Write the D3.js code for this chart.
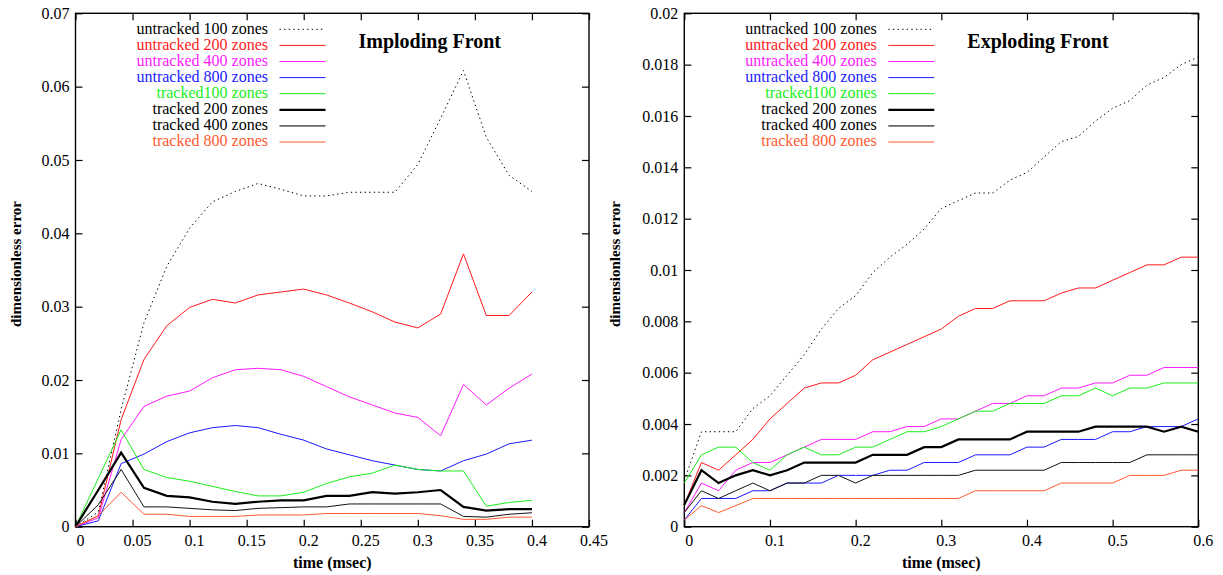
<!DOCTYPE html>
<html>
<head>
<meta charset="utf-8">
<script src="https://cdn.jsdelivr.net/npm/d3@7"></script>
<style>
body { margin: 0; background: #fff; }
text { font-family: "Liberation Serif", "Times New Roman", serif; }
</style>
</head>
<body>
<div id="chart"></div>
<script>
// Séries (mesma ordem nos dois gráficos)
const seriesNames = ["untracked 100 zones", "untracked 200 zones", "untracked 400 zones", "untracked 800 zones",
    "tracked100 zones", "tracked 200 zones", "tracked 400 zones", "tracked 800 zones"];
const seriesColors = ["#000000", "#ff1a1a", "#ff1aff", "#1a1aff", "#1aee1a", "#000000", "#111111", "#ff5a30"];
const seriesWidths = [1, 1, 1, 1, 1, 2.2, 1, 1];

// Imploding Front
const implodeTime = [0, 0.02, 0.04, 0.06, 0.08, 0.1, 0.12, 0.14, 0.16, 0.18, 0.2,
    0.22, 0.24, 0.26, 0.28, 0.3, 0.32, 0.34, 0.36, 0.38, 0.4];
const implodeU100 = [0, 0.002, 0.016, 0.0278, 0.0355, 0.0407, 0.0443, 0.0457, 0.0468, 0.046, 0.0451,
    0.0451, 0.0456, 0.0456, 0.0456, 0.0494, 0.0557, 0.0622, 0.0531, 0.0479, 0.0457];
const implodeU200 = [0, 0.0015, 0.0146, 0.0228, 0.0274, 0.0299, 0.031, 0.0305, 0.0316, 0.032, 0.0324,
    0.0316, 0.0305, 0.0293, 0.0279, 0.0271, 0.029, 0.0372, 0.0288, 0.0288, 0.032];
const implodeU400 = [0, 0.0012, 0.0119, 0.0164, 0.0178, 0.0185, 0.0203, 0.0214, 0.0216, 0.0214, 0.0205,
    0.0191, 0.0177, 0.0166, 0.0155, 0.0149, 0.0124, 0.0194, 0.0166, 0.0189, 0.0208];
const implodeU800 = [0, 0.0008, 0.0086, 0.0099, 0.0116, 0.0128, 0.0135, 0.0138, 0.0135, 0.0126, 0.0118,
    0.0106, 0.0098, 0.009, 0.0084, 0.0078, 0.0076, 0.009, 0.0099, 0.0113, 0.0118];
const implodeT100 = [0, 0.0066, 0.0132, 0.0078, 0.0067, 0.0062, 0.0055, 0.0048, 0.0042, 0.0042, 0.0047,
    0.0059, 0.0068, 0.0073, 0.0084, 0.0078, 0.0076, 0.0076, 0.0028, 0.0033, 0.0036];
const implodeT200 = [0, 0.005, 0.0101, 0.0053, 0.0042, 0.004, 0.0034, 0.0031, 0.0034, 0.0036, 0.0036,
    0.0042, 0.0042, 0.0047, 0.0045, 0.0047, 0.005, 0.0027, 0.0022, 0.0024, 0.0024];
const implodeT400 = [0, 0.003, 0.0078, 0.0027, 0.0027, 0.0025, 0.0023, 0.0022, 0.0025, 0.0026, 0.0027,
    0.0027, 0.0031, 0.0031, 0.0031, 0.0031, 0.0031, 0.0014, 0.0013, 0.0017, 0.0019];
const implodeT800 = [0, 0.0015, 0.0047, 0.0017, 0.0017, 0.0014, 0.0014, 0.0014, 0.0016, 0.0016, 0.0016,
    0.0018, 0.0018, 0.0018, 0.0018, 0.0018, 0.0015, 0.001, 0.001, 0.0013, 0.0013];
const implodeXTicks = [0, 0.05, 0.1, 0.15, 0.2, 0.25, 0.3, 0.35, 0.4, 0.45];
const implodeYTicks = [0, 0.01, 0.02, 0.03, 0.04, 0.05, 0.06, 0.07];

// Exploding Front
const explodeTime = [0, 0.02, 0.04, 0.06, 0.08, 0.1, 0.12, 0.14, 0.16, 0.18, 0.2,
    0.22, 0.24, 0.26, 0.28, 0.3, 0.32, 0.34, 0.36, 0.38, 0.4,
    0.42, 0.44, 0.46, 0.48, 0.5, 0.52, 0.54, 0.56, 0.58, 0.6];
const explodeU100 = [0.0018, 0.0037, 0.0037, 0.0037, 0.0046, 0.0051, 0.0059, 0.0067, 0.0077, 0.0085, 0.009,
    0.0099, 0.0105, 0.011, 0.0116, 0.0124, 0.0127, 0.013, 0.013, 0.0135, 0.0138,
    0.0144, 0.015, 0.0152, 0.0158, 0.0163, 0.0166, 0.0172, 0.0175, 0.018, 0.0183];
const explodeU200 = [0.00085, 0.0025, 0.0022, 0.0028, 0.0034, 0.0042, 0.0048, 0.0054, 0.0056, 0.0056, 0.0059,
    0.0065, 0.0068, 0.0071, 0.0074, 0.0077, 0.0082, 0.0085, 0.0085, 0.0088, 0.0088,
    0.0088, 0.0091, 0.0093, 0.0093, 0.0096, 0.0099, 0.0102, 0.0102, 0.0105, 0.0105];
const explodeU400 = [0.00055, 0.0017, 0.0014, 0.0022, 0.0025, 0.0025, 0.0028, 0.0031, 0.0034, 0.0034, 0.0034,
    0.0037, 0.0037, 0.0039, 0.0039, 0.0042, 0.0042, 0.0045, 0.0048, 0.0048, 0.0051,
    0.0051, 0.0054, 0.0054, 0.0056, 0.0056, 0.0059, 0.0059, 0.0062, 0.0062, 0.0062];
const explodeU800 = [0.00026, 0.0011, 0.0011, 0.0011, 0.0014, 0.0014, 0.0017, 0.0017, 0.0017, 0.002, 0.002,
    0.002, 0.0022, 0.0022, 0.0025, 0.0025, 0.0025, 0.0028, 0.0028, 0.0028, 0.0031,
    0.0031, 0.0034, 0.0034, 0.0034, 0.0037, 0.0037, 0.0039, 0.0039, 0.0039, 0.0042];
const explodeT100 = [0.0017, 0.0028, 0.0031, 0.0031, 0.0025, 0.0022, 0.0028, 0.0031, 0.0028, 0.0028, 0.0031,
    0.0031, 0.0034, 0.0037, 0.0037, 0.0039, 0.0042, 0.0045, 0.0045, 0.0048, 0.0048,
    0.0048, 0.0051, 0.0051, 0.0054, 0.0051, 0.0054, 0.0054, 0.0056, 0.0056, 0.0056];
const explodeT200 = [0.00085, 0.0022, 0.0017, 0.002, 0.0022, 0.002, 0.0022, 0.0025, 0.0025, 0.0025, 0.0025,
    0.0028, 0.0028, 0.0028, 0.0031, 0.0031, 0.0034, 0.0034, 0.0034, 0.0034, 0.0037,
    0.0037, 0.0037, 0.0037, 0.0039, 0.0039, 0.0039, 0.0039, 0.0037, 0.0039, 0.0037];
const explodeT400 = [0.00055, 0.0014, 0.0011, 0.0014, 0.0017, 0.0014, 0.0017, 0.0017, 0.002, 0.002, 0.0017,
    0.002, 0.002, 0.002, 0.002, 0.002, 0.002, 0.0022, 0.0022, 0.0022, 0.0022,
    0.0022, 0.0025, 0.0025, 0.0025, 0.0025, 0.0025, 0.0028, 0.0028, 0.0028, 0.0028];
const explodeT800 = [0.00026, 0.00082, 0.00055, 0.00082, 0.0011, 0.0011, 0.0011, 0.0011, 0.0011, 0.0011, 0.0011,
    0.0011, 0.0011, 0.0011, 0.0011, 0.0011, 0.0011, 0.0014, 0.0014, 0.0014, 0.0014,
    0.0014, 0.0017, 0.0017, 0.0017, 0.0017, 0.002, 0.002, 0.002, 0.0022, 0.0022];
const explodeXTicks = [0, 0.1, 0.2, 0.3, 0.4, 0.5, 0.6];
const explodeYTicks = [0, 0.002, 0.004, 0.006, 0.008, 0.01, 0.012, 0.014, 0.016, 0.018, 0.02];

// Tamanho da página
const width = 1223;
const height = 575;

const svg = d3.select("#chart")
    .append("svg")
    .attr("width", width)
    .attr("height", height);

function drawPanel(p) {
    const top = 13.3, h = 513.4, w = p.w;
    const g = svg.append("g").attr("transform", `translate(${p.left},${top})`);

    const x = d3.scaleLinear().domain(p.xDomain).range([0, w]);
    const y = d3.scaleLinear().domain(p.yDomain).range([h, 0]);
    const fmt = d => d === 0 ? "0" : String(d);

    // Eixos com ticks para dentro
    const ax = g.append("g").attr("transform", `translate(0,${h})`)
        .call(d3.axisBottom(x).tickValues(p.xTicks).tickFormat(fmt).tickSizeInner(-7).tickSizeOuter(0).tickPadding(8));
    ax.selectAll("text").attr("dx", 4.5);
    g.append("g")
        .call(d3.axisTop(x).tickValues(p.xTicks).tickFormat("").tickSizeInner(-7).tickSizeOuter(0));
    g.append("g")
        .call(d3.axisLeft(y).tickValues(p.yTicks).tickFormat(fmt).tickSizeInner(-7).tickSizeOuter(0).tickPadding(6));
    g.append("g").attr("transform", `translate(${w},0)`)
        .call(d3.axisRight(y).tickValues(p.yTicks).tickFormat("").tickSizeInner(-7).tickSizeOuter(0));
    g.selectAll(".domain").remove();
    g.selectAll(".tick line").attr("stroke", "#000").attr("stroke-width", 1.2);
    g.selectAll(".tick text").style("font-size", "16px").style("fill", "#000");

    g.append("rect")
        .attr("width", w).attr("height", h)
        .attr("fill", "none").attr("stroke", "#000").attr("stroke-width", 1.4);

    // Linhas
    const line = d3.line()
        .x((d, i) => x(p.time[i]))
        .y(d => y(d));

    p.series.forEach((s, i) => {
        g.append("path")
            .datum(s)
            .attr("fill", "none")
            .attr("stroke", seriesColors[i])
            .attr("stroke-width", seriesWidths[i])
            .attr("stroke-dasharray", i === 0 ? "1.4,3.2" : null)
            .attr("d", line);
    });

    // Legenda
    seriesNames.forEach((name, i) => {
        const ly = 16 + i * 16.1;
        g.append("text")
            .attr("x", 192.5).attr("y", ly + 4.5)
            .attr("text-anchor", "end")
            .style("font-size", "16px")
            .style("fill", i === 0 || i === 5 || i === 6 ? "#000" : seriesColors[i])
            .text(name);
        g.append("line")
            .attr("x1", 204).attr("x2", 250)
            .attr("y1", ly).attr("y2", ly)
            .attr("stroke", i === 6 ? "#666" : seriesColors[i])
            .attr("stroke-width", i === 6 ? 1.6 : seriesWidths[i])
            .attr("stroke-dasharray", i === 0 ? "1.4,3.2" : null);
    });

    // Título
    g.append("text")
        .attr("x", 283).attr("y", 48 - top)
        .style("font-size", "20px").style("font-weight", "bold")
        .style("fill", "#000")
        .text(p.title);

    // Rótulos dos eixos
    g.append("text")
        .attr("x", w / 2).attr("y", 568 - top)
        .attr("text-anchor", "middle")
        .style("font-size", "16px").style("font-weight", "bold")
        .style("fill", "#000")
        .text("time (msec)");

    g.append("text")
        .attr("transform", `translate(${-p.yLabelOff},${264 - top}) rotate(-90)`)
        .attr("text-anchor", "middle")
        .style("font-size", "15px").style("font-weight", "bold")
        .style("fill", "#000")
        .text("dimensionless error");
}

drawPanel({
    left: 75.5, w: 513.5, title: "Imploding Front", yLabelOff: 54.5,
    xDomain: [0, 0.45], yDomain: [0, 0.07],
    xTicks: implodeXTicks, yTicks: implodeYTicks, time: implodeTime,
    series: [implodeU100, implodeU200, implodeU400, implodeU800, implodeT100, implodeT200, implodeT400, implodeT800]
});

drawPanel({
    left: 684.3, w: 514, title: "Exploding Front", yLabelOff: 64.3,
    xDomain: [0, 0.6], yDomain: [0, 0.02],
    xTicks: explodeXTicks, yTicks: explodeYTicks, time: explodeTime,
    series: [explodeU100, explodeU200, explodeU400, explodeU800, explodeT100, explodeT200, explodeT400, explodeT800]
});
</script>
</body>
</html>
